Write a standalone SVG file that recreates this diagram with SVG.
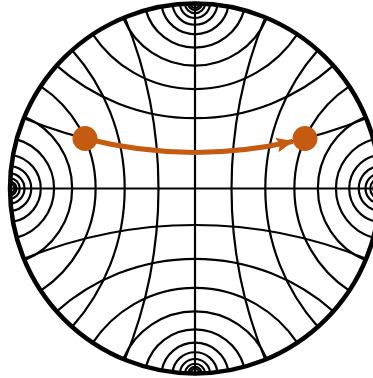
<svg xmlns="http://www.w3.org/2000/svg" width="373" height="378" viewBox="0 0 373 378">
<defs>
<style>
.g{fill:none;stroke:#000;stroke-width:2.2}
.rim{fill:none;stroke:#000;stroke-width:4.5}
.conn{fill:none;stroke:#C55A11;stroke-width:5}
.dot{fill:#C55A11}
</style>
<clipPath id="disk"><circle cx="195" cy="188.5" r="185"/></clipPath>
<marker id="ah" viewBox="0 0 17 15" refX="16" refY="7.5" markerWidth="17" markerHeight="15" markerUnits="userSpaceOnUse" orient="auto">
<path d="M0,0 L17,7.5 L0,15 L3,7.5 z" fill="#C55A11"/>
</marker>
</defs>
<rect width="373" height="378" fill="#fff"/>
<g id="grid" clip-path="url(#disk)">
<path class="g" d="M10,188.5 H380 M195,3.5 V373.5"/>
<path class="g" d="M265.29,17.37 A450.39,450.39 0 0 0 265.29,359.63"/>
<path class="g" d="M317.85,50.18 A208.31,208.31 0 0 0 317.85,326.82"/>
<path class="g" d="M349.23,86.33 A122.56,122.56 0 0 0 349.23,290.67"/>
<path class="g" d="M365.51,116.72 A77.88,77.88 0 0 0 365.51,260.28"/>
<path class="g" d="M373.35,139.33 A51.01,51.01 0 0 0 373.35,237.67"/>
<path class="g" d="M376.98,155.21 A33.84,33.84 0 0 0 376.98,221.79"/>
<path class="g" d="M378.64,166.08 A22.58,22.58 0 0 0 378.64,210.92"/>
<path class="g" d="M379.39,173.44 A15.11,15.11 0 0 0 379.39,203.56"/>
<path class="g" d="M379.72,178.40 A10.12,10.12 0 0 0 379.72,198.60"/>
<path class="g" d="M379.88,181.73 A6.78,6.78 0 0 0 379.88,195.27"/>
<path class="g" d="M379.94,183.96 A4.54,4.54 0 0 0 379.94,193.04"/>
<path class="g" d="M124.71,17.37 A450.39,450.39 0 0 1 124.71,359.63"/>
<path class="g" d="M72.15,50.18 A208.31,208.31 0 0 1 72.15,326.82"/>
<path class="g" d="M40.77,86.33 A122.56,122.56 0 0 1 40.77,290.67"/>
<path class="g" d="M24.49,116.72 A77.88,77.88 0 0 1 24.49,260.28"/>
<path class="g" d="M16.65,139.33 A51.01,51.01 0 0 1 16.65,237.67"/>
<path class="g" d="M13.02,155.21 A33.84,33.84 0 0 1 13.02,221.79"/>
<path class="g" d="M11.36,166.08 A22.58,22.58 0 0 1 11.36,210.92"/>
<path class="g" d="M10.61,173.44 A15.11,15.11 0 0 1 10.61,203.56"/>
<path class="g" d="M10.28,178.40 A10.12,10.12 0 0 1 10.28,198.60"/>
<path class="g" d="M10.12,181.73 A6.78,6.78 0 0 1 10.12,195.27"/>
<path class="g" d="M10.06,183.96 A4.54,4.54 0 0 1 10.06,193.04"/>
<path class="g" d="M23.87,118.21 A450.39,450.39 0 0 0 366.13,118.21"/>
<path class="g" d="M56.68,65.65 A208.31,208.31 0 0 0 333.32,65.65"/>
<path class="g" d="M92.83,34.27 A122.56,122.56 0 0 0 297.17,34.27"/>
<path class="g" d="M123.22,17.99 A77.88,77.88 0 0 0 266.78,17.99"/>
<path class="g" d="M145.83,10.15 A51.01,51.01 0 0 0 244.17,10.15"/>
<path class="g" d="M161.71,6.52 A33.84,33.84 0 0 0 228.29,6.52"/>
<path class="g" d="M172.58,4.86 A22.58,22.58 0 0 0 217.42,4.86"/>
<path class="g" d="M179.94,4.11 A15.11,15.11 0 0 0 210.06,4.11"/>
<path class="g" d="M184.90,3.78 A10.12,10.12 0 0 0 205.10,3.78"/>
<path class="g" d="M188.23,3.62 A6.78,6.78 0 0 0 201.77,3.62"/>
<path class="g" d="M190.46,3.56 A4.54,4.54 0 0 0 199.54,3.56"/>
<path class="g" d="M23.87,258.79 A450.39,450.39 0 0 1 366.13,258.79"/>
<path class="g" d="M56.68,311.35 A208.31,208.31 0 0 1 333.32,311.35"/>
<path class="g" d="M92.83,342.73 A122.56,122.56 0 0 1 297.17,342.73"/>
<path class="g" d="M123.22,359.01 A77.88,77.88 0 0 1 266.78,359.01"/>
<path class="g" d="M145.83,366.85 A51.01,51.01 0 0 1 244.17,366.85"/>
<path class="g" d="M161.71,370.48 A33.84,33.84 0 0 1 228.29,370.48"/>
<path class="g" d="M172.58,372.14 A22.58,22.58 0 0 1 217.42,372.14"/>
<path class="g" d="M179.94,372.89 A15.11,15.11 0 0 1 210.06,372.89"/>
<path class="g" d="M184.90,373.22 A10.12,10.12 0 0 1 205.10,373.22"/>
<path class="g" d="M188.23,373.38 A6.78,6.78 0 0 1 201.77,373.38"/>
<path class="g" d="M190.46,373.44 A4.54,4.54 0 0 1 199.54,373.44"/>
</g>
<g id="boundary">
<circle class="rim" cx="195" cy="188.5" r="185"/>
</g>
<g id="connectors">
<path class="conn" d="M85,138.5 A447.3,447.3 0 0 0 292.5,141.5" marker-end="url(#ah)"/>
</g>
<g id="node-start">
<circle class="dot" cx="85" cy="138.5" r="12.5"/>
</g>
<g id="node-end">
<circle class="dot" cx="305" cy="138.5" r="12.5"/>
</g>
</svg>
